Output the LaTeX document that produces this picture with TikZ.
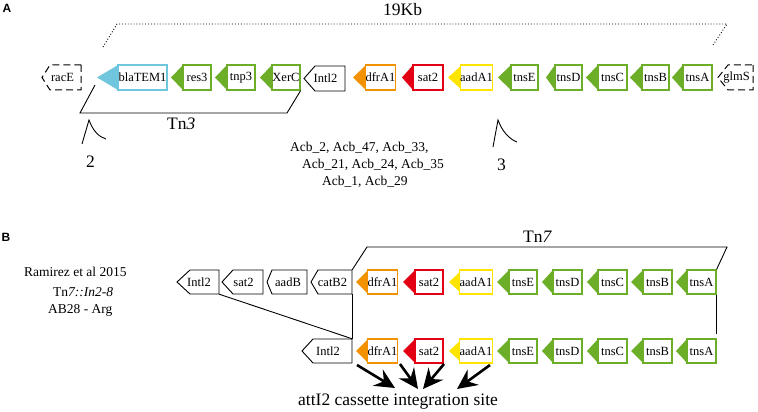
\documentclass[tikz,border=0pt]{standalone}
\usepackage{fontspec}
\setmainfont{Liberation Serif}
\newfontfamily\panelfont{Liberation Sans}
\usetikzlibrary{arrows.meta}
\definecolor{gGreen}{RGB}{108,174,40}
\definecolor{gCyan}{RGB}{112,198,220}
\definecolor{gOrange}{RGB}{243,146,0}
\definecolor{gRed}{RGB}{228,0,20}
\definecolor{gYellow}{RGB}{255,228,0}
\tikzset{
  cbox/.style={draw=#1, fill=white, line width=1.2pt, inner sep=0pt,
    font=\fontsize{12.5}{12.5}\selectfont},
  tbox/.style={inner sep=0pt, font=\fontsize{12.5}{12.5}\selectfont},
  solidline/.style={line width=0.9pt},
  dashline/.style={line width=1pt, dash pattern=on 7pt off 4pt},
  bigtxt/.style={font=\fontsize{17.5}{18}\selectfont, inner sep=0pt, anchor=base west},
  midtxt/.style={font=\fontsize{13.5}{14}\selectfont, inner sep=0pt, anchor=base west},
  paneltxt/.style={font=\panelfont\bfseries\fontsize{12}{12}\selectfont, inner sep=0pt},
  bigarrow/.style={line width=2.6pt, -{Stealth[length=20pt,width=19pt,inset=7pt]}},
}
% name, tip, left, right, cy, h, colour, label
\newcommand\cgene[8]{%
  \fill[#7] (#3,{#5-#6/2}) -- (#3,{#5+#6/2}) -- (#2,#5) -- cycle;
  \node[cbox=#7, minimum width={(#4-#3)*1pt}, minimum height={#6*1pt}] (#1) at ({(#3+#4)/2},#5) {#8};
}
% name, tip, left, right, cy, h, line style, label  (node spans the whole arrow shape)
\newcommand\bgene[8]{%
  \node[tbox, minimum width={(#4-#2)*1pt}, minimum height={#6*1pt}] (#1) at ({(#2+#4)/2+1},#5) {#8};
  \draw[#7] (#4,{#5-#6/2}) -- (#4,{#5+#6/2}) -- (#3,{#5+#6/2}) -- (#2,#5) -- (#3,{#5-#6/2}) -- cycle;
}
\begin{document}
\begin{tikzpicture}[x=1pt,y=-1pt]
\useasboundingbox (0,0) rectangle (758,412);
% ---------- panel labels
\node[paneltxt] (pA) at (7,8) {A};
\node[paneltxt] (pB) at (6,237) {B};
% ---------- row A
\bgene{rac}{42}{50}{81}{77.5}{25}{dashline}{racE}
\cgene{bla}{97}{118}{167}{77.5}{25}{gCyan}{blaTEM1}
\cgene{res}{171}{183}{211}{77.5}{25}{gGreen}{res3}
\cgene{tnp}{215}{227}{255}{77.5}{25}{gGreen}{tnp3}
\cgene{xer}{260}{272}{300}{77.5}{25}{gGreen}{XerC}
\bgene{intA}{304}{315}{345}{78.5}{25}{solidline}{Intl2}
\cgene{dfrA}{353}{366}{395}{77.5}{25}{gOrange}{dfrA1}
\cgene{satA}{402}{413}{443}{77.5}{25}{gRed}{sat2}
\cgene{aadA}{448}{462}{491}{77.5}{25}{gYellow}{aadA1}
\cgene{tEA}{498}{511}{538}{77.5}{25}{gGreen}{tnsE}
\cgene{tDA}{546}{555}{582}{77.5}{25}{gGreen}{tnsD}
\cgene{tCA}{586}{598}{627}{77.5}{25}{gGreen}{tnsC}
\cgene{tBA}{630}{642}{669}{77.5}{25}{gGreen}{tnsB}
\cgene{tAA}{672}{683}{712}{77.5}{25}{gGreen}{tnsA}
\bgene{glm}{718}{728}{753}{77.5}{25}{dashline}{glmS}
% 19Kb dotted span
\coordinate (kb1) at (103,47);
\coordinate (kb2) at (713,45);
\draw[dotted, line width=0.9pt] (kb1) -- (117,24) -- (727,24) -- (kb2);
\node[bigtxt] (kb) at (383,16) {19Kb};
% Tn3 bracket
\coordinate (tn3s) at (95,85);
\draw[solidline] (tn3s) -- (80,113) -- (287,113) -- (xer.south east);
\node[bigtxt] (tn3) at (167,129.5) {Tn\textit{3}};
% insertion wedges
\draw[solidline] (82,144) -- (89,120) .. controls (93,131) and (99,137) .. (106,139);
\node[bigtxt] (n2) at (86,167) {2};
\draw[solidline] (493,147) -- (498,120) .. controls (502,131) and (509,139) .. (517,142);
\node[bigtxt] (n3) at (497,170) {3};
% strains
\node[midtxt] (acb1) at (290,151) {Acb\_2, Acb\_47, Acb\_33,};
\node[midtxt] (acb2) at (302,168) {Acb\_21, Acb\_24, Acb\_35};
\node[midtxt] (acb3) at (322,185) {Acb\_1, Acb\_29};
% ---------- row B1
\bgene{intB}{177}{190}{219}{282}{24}{solidline}{Intl2}
\bgene{satB}{222}{233}{263}{282}{24}{solidline}{sat2}
\bgene{aadBB}{267}{272}{307}{282}{24}{solidline}{aadB}
\bgene{catB}{311}{318}{352}{282}{24}{solidline}{catB2}
\cgene{dfrB}{356}{368}{397}{282}{24}{gOrange}{dfrA1}
\cgene{satB2}{403}{415}{443}{282}{24}{gRed}{sat2}
\cgene{aadB2}{449}{462}{490}{282}{24}{gYellow}{aadA1}
\cgene{tEB}{497}{509}{537}{282}{24}{gGreen}{tnsE}
\cgene{tDB}{542}{553}{582}{282}{24}{gGreen}{tnsD}
\cgene{tCB}{587}{598}{627}{282}{24}{gGreen}{tnsC}
\cgene{tBB}{631}{643}{672}{282}{24}{gGreen}{tnsB}
\cgene{tAB}{676}{687}{716}{282}{24}{gGreen}{tnsA}
% ---------- row B2
\bgene{intC}{302}{313}{352}{351}{24}{solidline}{Intl2}
\cgene{dfrC}{356}{368}{397}{351}{24}{gOrange}{dfrA1}
\cgene{satC}{403}{415}{443}{351}{24}{gRed}{sat2}
\cgene{aadC}{449}{462}{490}{351}{24}{gYellow}{aadA1}
\cgene{tEC}{497}{509}{537}{351}{24}{gGreen}{tnsE}
\cgene{tDC}{542}{553}{582}{351}{24}{gGreen}{tnsD}
\cgene{tCC}{587}{598}{627}{351}{24}{gGreen}{tnsC}
\cgene{tBC}{631}{643}{672}{351}{24}{gGreen}{tnsB}
\cgene{tAC}{676}{687}{716}{351}{24}{gGreen}{tnsA}
% Tn7 bracket
\draw[solidline] ([xshift=-1pt]catB.north east) -- (367,247) -- (727,247) -- (tAB.north east);
\node[bigtxt] (tn7) at (523,242) {Tn\textit{7}};
% connections between rows
\draw[solidline] ([xshift=-1pt]intB.south east) -- ([xshift=-1pt]intC.north east);
\draw[solidline] ([xshift=-1pt]catB.south east) -- ([xshift=-1pt]intC.north east);
\draw[solidline] (tAB.south east) -- ([yshift=4pt]tAC.north east);
% reference text
\node[midtxt] (ram1) at (24,276.5) {Ramirez et al 2015};
\node[midtxt] (ram2) at (53,296) {Tn\textit{7::In2-8}};
\node[midtxt] (ram3) at (48,313) {AB28 - Arg};
% integration site
\node[bigtxt] (site) at (298,405) {attI2 cassette integration site};
\coordinate (a1s) at (357,365); \coordinate (a1e) at (395,388);
\coordinate (a2s) at (400,364); \coordinate (a2e) at (418,389);
\coordinate (a3s) at (444,364); \coordinate (a3e) at (423,389);
\coordinate (a4s) at (490,365); \coordinate (a4e) at (457,389);
\draw[bigarrow] (a1s) -- (a1e);
\draw[bigarrow] (a2s) -- (a2e);
\draw[bigarrow] (a3s) -- (a3e);
\draw[bigarrow] (a4s) -- (a4e);
\end{tikzpicture}
\end{document}
